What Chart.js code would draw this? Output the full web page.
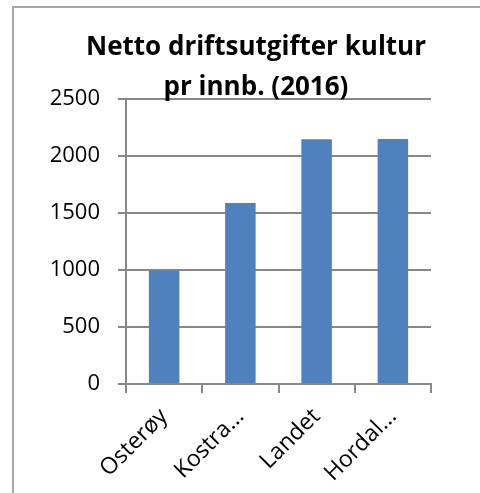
<!DOCTYPE html>
<html>
<head>
<meta charset="utf-8">
<script src="https://cdn.jsdelivr.net/npm/chart.js@4/dist/chart.umd.min.js"></script>
<style>
  html, body { margin: 0; padding: 0; background: #fff; overflow: hidden; }
  #frame { position: absolute; left: 12px; top: 6px; width: 600px; height: 600px; border: 2px solid #a6a6a6; }
  #wrap { position: absolute; left: 0; top: 0; width: 480px; height: 493px; }
</style>
</head>
<body>
<div id="frame"></div>
<div id="wrap"><canvas id="chart" width="480" height="493"></canvas></div>
<script>
// data
const categories = ['Osterøy', 'Kostra...', 'Landet', 'Hordal...'];
const values = [995, 1588, 2146, 2149];
const titleLines = ['Netto driftsutgifter kultur', 'pr innb. (2016)'];

const gridColor = '#878787';

const ctx = document.getElementById('chart').getContext('2d');
new Chart(ctx, {
    type: 'bar',
    data: {
        labels: categories,
        datasets: [{
            data: values,
            backgroundColor: '#4f81bd',
            barPercentage: 0.4,
            categoryPercentage: 1
        }]
    },
    options: {
        responsive: false,
        animation: false,
        // left padding keeps the title centred like the original
        layout: { padding: { left: 81, right: 49, top: 7, bottom: 0 } },
        plugins: {
            legend: { display: false },
            tooltip: { enabled: false },
            title: {
                display: true,
                text: titleLines,
                color: '#000',
                font: { family: 'Open Sans', size: 26, weight: 'bold', lineHeight: '40px' },
                padding: { top: 21, bottom: -9 }
            }
        },
        scales: {
            x: {
                afterFit: s => { s.height = 109; },
                grid: {
                    offset: true,
                    drawOnChartArea: false,
                    color: gridColor,
                    lineWidth: 2,
                    tickLength: 9
                },
                border: { color: gridColor, width: 2 },
                ticks: {
                    color: '#000',
                    font: { family: 'Open Sans', size: 23 },
                    maxRotation: 45,
                    minRotation: 45,
                    padding: 10
                }
            },
            y: {
                min: 0,
                max: 2500,
                afterFit: s => {
                    s.width = 45;
                    // labels hang out past the narrowed box, so don't clip them
                    s._computeLabelArea = () => undefined;
                },
                grid: {
                    color: gridColor,
                    lineWidth: 2,
                    tickLength: 8
                },
                border: { color: gridColor, width: 2 },
                ticks: {
                    stepSize: 500,
                    color: '#000',
                    font: { family: 'Open Sans', size: 22 },
                    padding: 18,
                    callback: v => String(v)
                }
            }
        }
    }
});
</script>
</body>
</html>
